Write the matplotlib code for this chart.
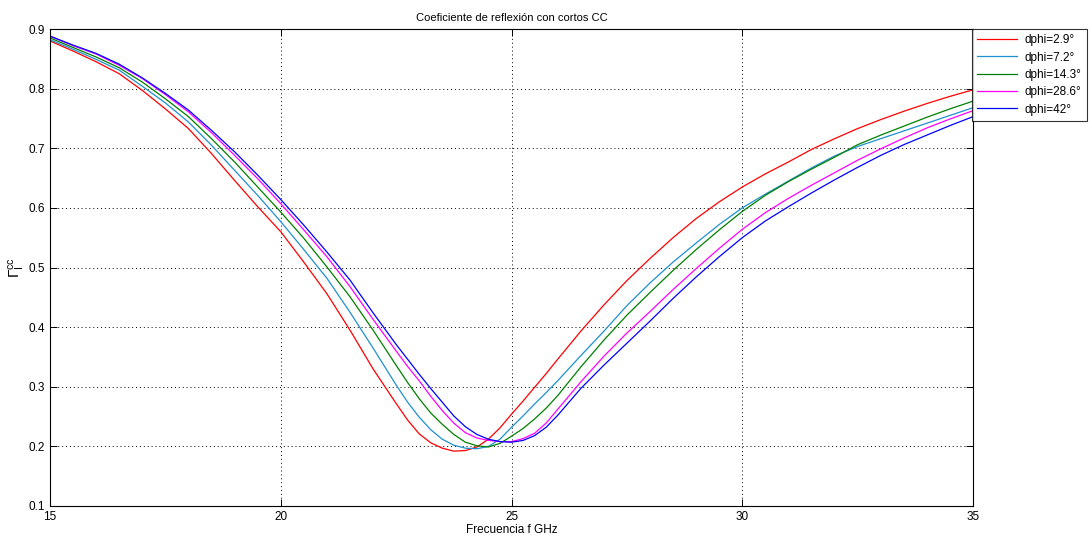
import matplotlib
matplotlib.use('Agg')
import matplotlib.pyplot as plt

plt.rcParams['font.family'] = ['Liberation Sans', 'DejaVu Sans']
plt.rcParams['mathtext.fontset'] = 'custom'
plt.rcParams['mathtext.rm'] = 'Liberation Sans'
plt.rcParams['mathtext.it'] = 'Liberation Sans'

# frequency samples (GHz): half GHz steps, quarter steps around the dip
freq = [15, 15.5, 16, 16.5, 17, 17.5, 18, 18.5, 19, 19.5, 20, 20.5, 21, 21.5, 22,
        22.5, 22.75, 23, 23.25, 23.5, 23.75, 24, 24.25, 24.5, 24.75, 25, 25.25, 25.5,
        25.75, 26, 26.5, 27, 27.5, 28, 28.5, 29, 29.5, 30, 30.5, 31, 31.5, 32, 32.5,
        33, 33.5, 34, 34.5, 35]

# reflection coefficient for each phase step
g_29 = [0.880, 0.863, 0.845, 0.825, 0.797, 0.766, 0.733, 0.691, 0.646, 0.602, 0.560,
        0.509, 0.456, 0.395, 0.330,
        0.272, 0.244, 0.221, 0.206, 0.197, 0.192, 0.193, 0.199, 0.212, 0.231, 0.254,
        0.276, 0.299, 0.322, 0.346,
        0.393, 0.437, 0.478, 0.515, 0.550, 0.582, 0.610, 0.635, 0.657, 0.677,
        0.698, 0.716, 0.733, 0.748, 0.762, 0.775, 0.787, 0.798]
g_72 = [0.882, 0.866, 0.849, 0.831, 0.804, 0.776, 0.744, 0.705, 0.663, 0.621, 0.577,
        0.530, 0.482, 0.425, 0.365,
        0.303, 0.274, 0.249, 0.228, 0.212, 0.202, 0.197, 0.196, 0.200, 0.212, 0.232,
        0.251, 0.271, 0.290, 0.310,
        0.352, 0.393, 0.436, 0.474, 0.509, 0.541, 0.572, 0.600, 0.623, 0.645,
        0.667, 0.687, 0.703, 0.716, 0.729, 0.742, 0.755, 0.768]
g_143 = [0.885, 0.869, 0.853, 0.835, 0.811, 0.783, 0.753, 0.716, 0.677, 0.635, 0.593,
         0.549, 0.501, 0.451, 0.395,
         0.336, 0.307, 0.280, 0.256, 0.237, 0.220, 0.207, 0.201, 0.199, 0.205, 0.217,
         0.230, 0.246, 0.264, 0.285,
         0.333, 0.378, 0.420, 0.458, 0.495, 0.530, 0.563, 0.594, 0.621, 0.644,
         0.665, 0.685, 0.706, 0.722, 0.737, 0.752, 0.766, 0.779]
g_286 = [0.888, 0.872, 0.858, 0.839, 0.817, 0.790, 0.761, 0.726, 0.688, 0.649, 0.607,
         0.563, 0.518, 0.468, 0.413,
         0.360, 0.334, 0.310, 0.284, 0.260, 0.239, 0.223, 0.214, 0.210, 0.208, 0.208,
         0.213, 0.222, 0.239, 0.262,
         0.308, 0.351, 0.390, 0.426, 0.463, 0.498, 0.532, 0.564, 0.592, 0.616,
         0.638, 0.659, 0.680, 0.699, 0.717, 0.734, 0.749, 0.763]
g_42 = [0.888, 0.873, 0.859, 0.841, 0.818, 0.792, 0.764, 0.730, 0.694, 0.655, 0.614,
        0.571, 0.526, 0.479, 0.424,
        0.371, 0.346, 0.321, 0.297, 0.274, 0.251, 0.233, 0.220, 0.212, 0.208, 0.207,
        0.210, 0.218, 0.232, 0.252,
        0.297, 0.336, 0.373, 0.410, 0.448, 0.484, 0.518, 0.550, 0.578, 0.602,
        0.625, 0.647, 0.668, 0.688, 0.706, 0.722, 0.738, 0.753]

series = [g_29, g_72, g_143, g_286, g_42]
labels = ['dphi=2.9°', 'dphi=7.2°', 'dphi=14.3°', 'dphi=28.6°', 'dphi=42°']
colors = ['#ff0000', '#1e90d0', '#008000', '#ff00ff', '#0000ff']

fig = plt.figure(figsize=(10.91, 5.40), dpi=100)
ax = fig.add_axes([50 / 1091, 1 - 506 / 540, 923 / 1091, 477 / 540])

for vals, lab, col in zip(series, labels, colors):
    ax.plot(freq, vals, color=col, lw=0.9, label=lab)

ax.set_xlim(15, 35)
ax.set_ylim(0.1, 0.9)
ax.set_xticks([15, 20, 25, 30, 35])
ax.set_yticks([0.1, 0.2, 0.3, 0.4, 0.5, 0.6, 0.7, 0.8, 0.9])
ax.grid(True, color='black', ls=(0, (1, 3)), lw=0.7)
ax.tick_params(direction='in', top=True, right=True, labelsize=8.5, length=5, width=0.7)
for s in ax.spines.values():
    s.set_linewidth(0.8)

ax.set_title('Coeficiente de reflexión con cortos CC', fontsize=8, pad=6)
ax.set_xlabel('Frecuencia f GHz', fontsize=8.5, labelpad=1)
ax.set_ylabel(r'$\Gamma_I^{cc}$', fontsize=11, labelpad=1)

leg = fig.legend(loc='upper left', bbox_to_anchor=(972 / 1091, 1 - 29 / 540),
                 fontsize=8.5, frameon=True, fancybox=False, edgecolor='black',
                 handlelength=3.4, labelspacing=0.45, borderpad=0.45,
                 handletextpad=0.6, borderaxespad=0)
leg.get_frame().set_linewidth(0.8)

fig.savefig('out.png', dpi=100)
